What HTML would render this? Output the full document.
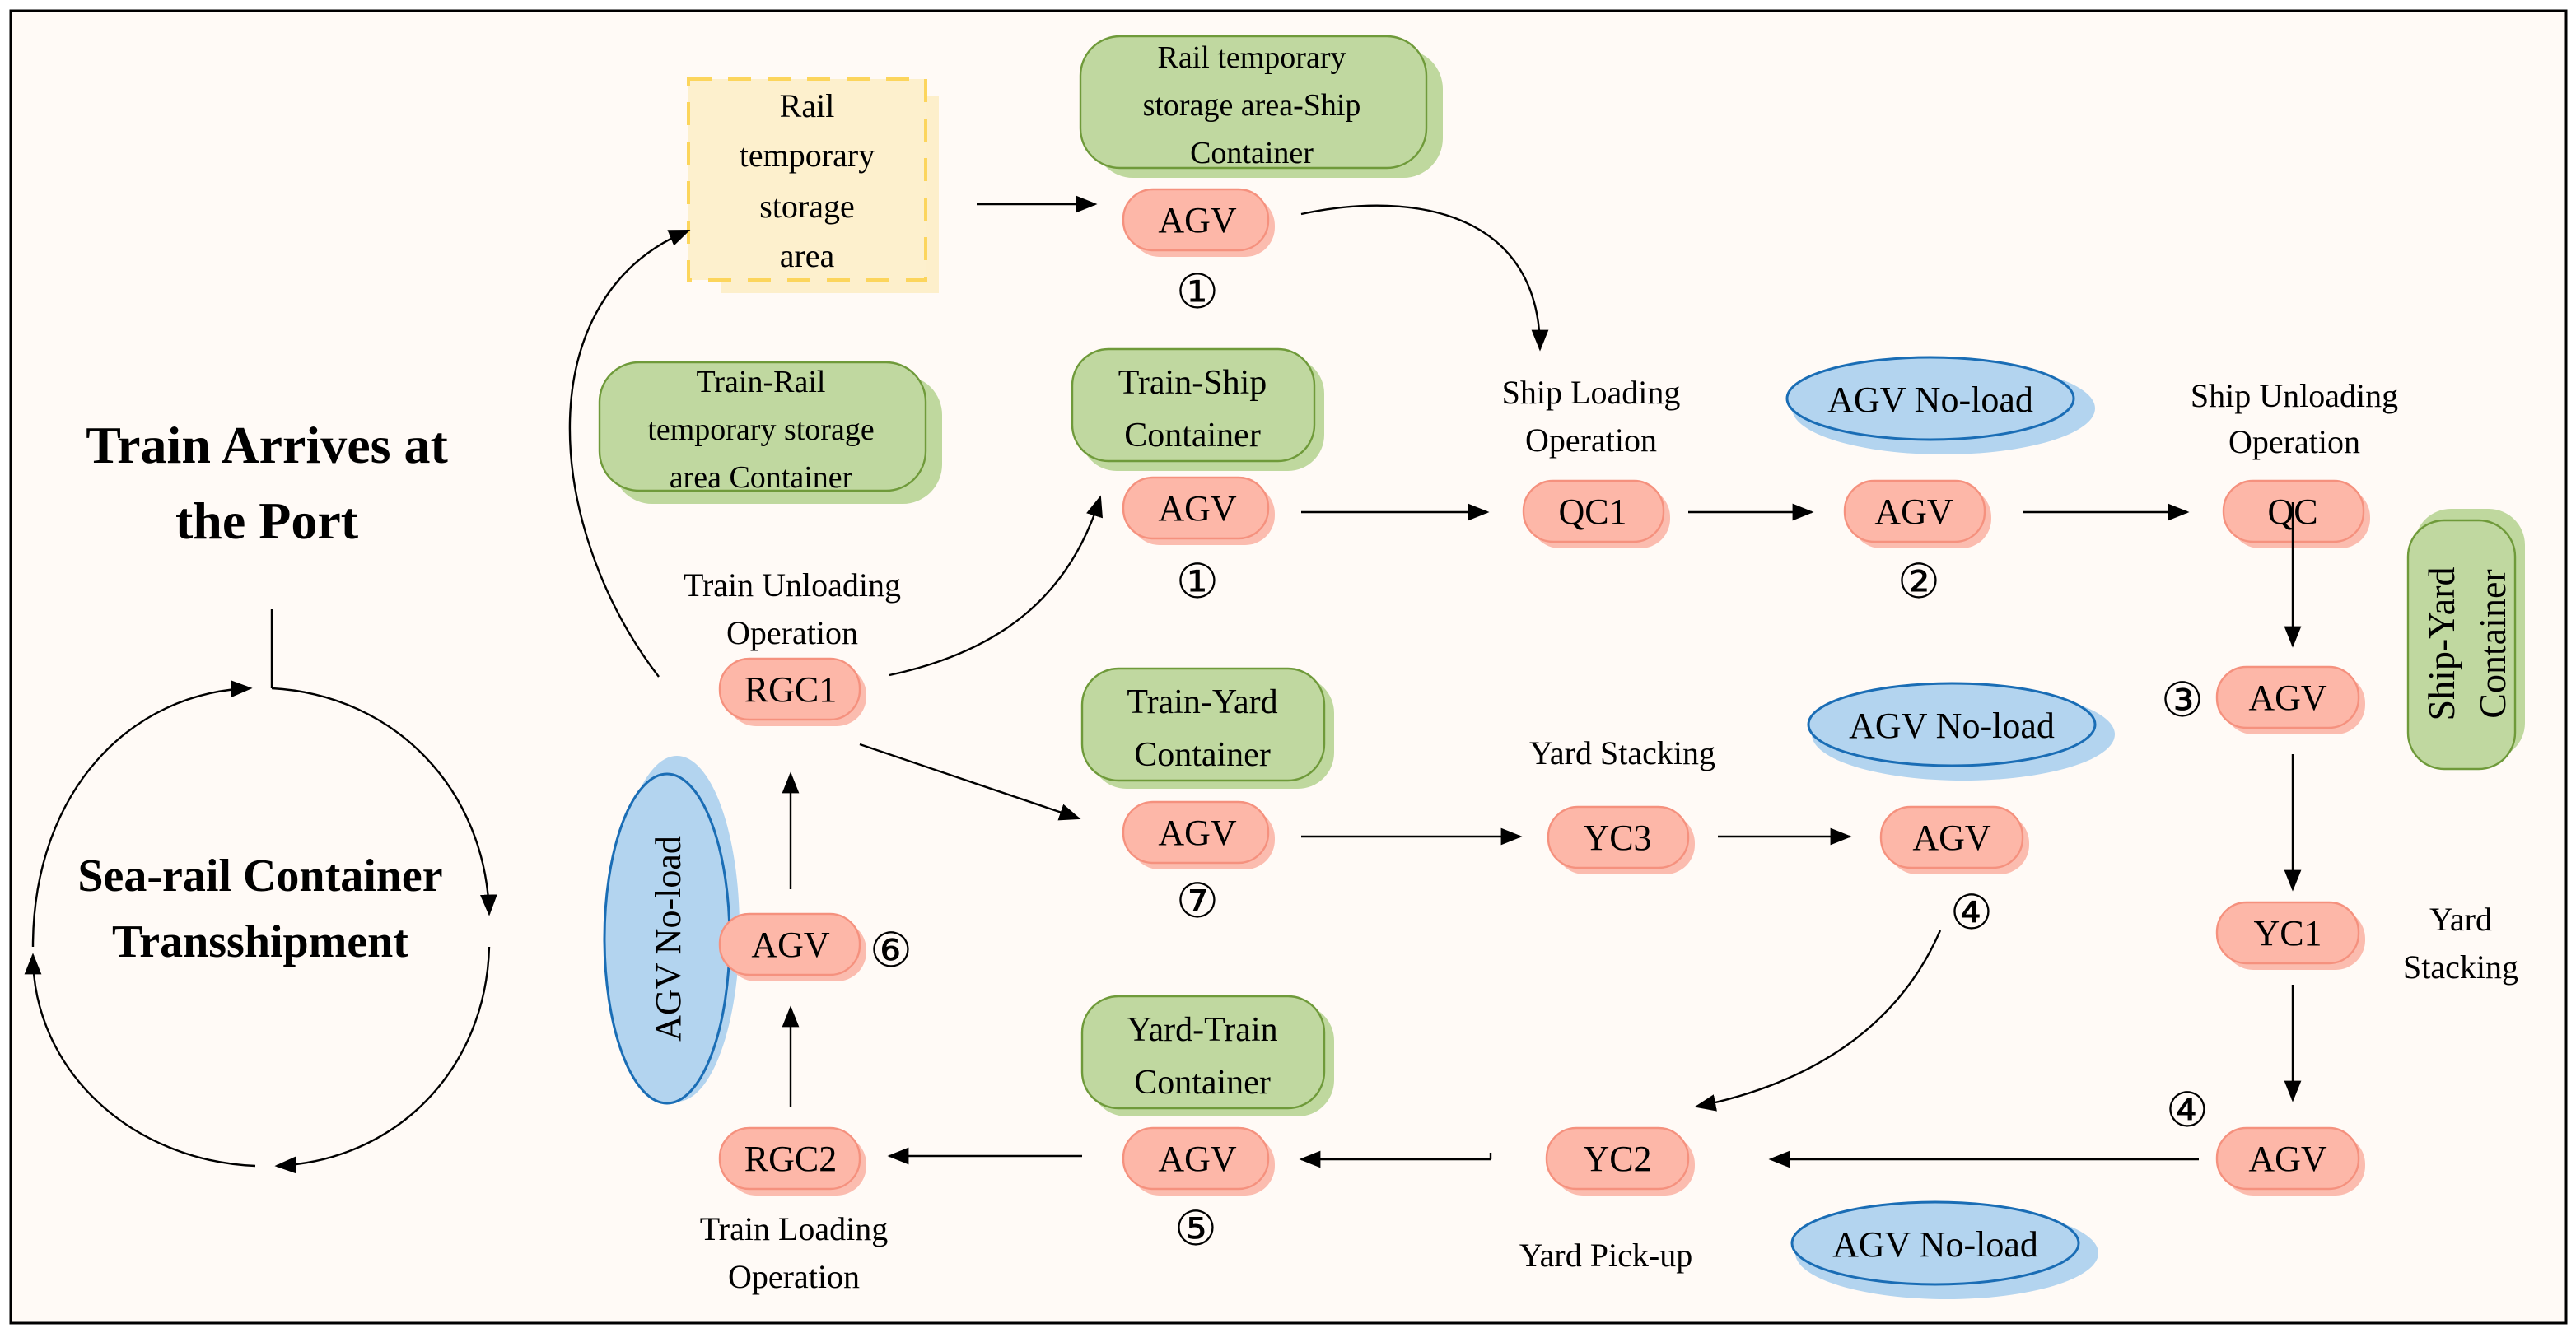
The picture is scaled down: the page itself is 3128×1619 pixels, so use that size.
<!DOCTYPE html>
<html><head><meta charset="utf-8"><style>
html,body{margin:0;padding:0;background:#fff;}
svg{display:block;}
text{font-family:"Liberation Serif",serif;fill:#000;}
.c{font-family:"DejaVu Sans",sans-serif;font-size:29px;}
</style></head><body>
<svg width="3128" height="1619" viewBox="0 0 1564 809.5" xmlns="http://www.w3.org/2000/svg">
<defs>
<marker id="b" viewBox="0 0 10 10" refX="9" refY="5" markerWidth="13" markerHeight="13" markerUnits="userSpaceOnUse" orient="auto"><path d="M0,1 L10,5 L0,9 z" fill="#000"/></marker>
</defs>
<rect x="6.5" y="6.5" width="1551.5" height="797" fill="#fffaf6" stroke="#000" stroke-width="1.5"/>

<!-- yellow dashed -->
<rect x="438" y="58" width="132" height="120" fill="#fdefcb"/>
<rect x="418" y="48" width="144" height="122" fill="#fdf0cd" stroke="#fcd55c" stroke-width="2" stroke-dasharray="14,10"/>
<g font-size="20" text-anchor="middle">
<text x="490" y="71">Rail</text><text x="490" y="101">temporary</text><text x="490" y="132">storage</text><text x="490" y="162">area</text>
</g>

<g stroke="#6f9a3a" stroke-width="1.2">
<rect x="664" y="30" width="212" height="78" rx="24" fill="#bfd89e" stroke="none"/>
<rect x="656" y="22" width="210" height="80" rx="24" fill="#c0d8a0"/>
<rect x="372" y="228" width="200" height="78" rx="24" fill="#bfd89e" stroke="none"/>
<rect x="364" y="220" width="198" height="78" rx="24" fill="#c0d8a0"/>
<rect x="656" y="217" width="148" height="69" rx="22" fill="#bfd89e" stroke="none"/>
<rect x="651" y="212" width="147" height="68" rx="22" fill="#c0d8a0"/>
<rect x="662" y="411" width="148" height="68" rx="22" fill="#bfd89e" stroke="none"/>
<rect x="657" y="406" width="147" height="68" rx="22" fill="#c0d8a0"/>
<rect x="662" y="610" width="148" height="68" rx="22" fill="#bfd89e" stroke="none"/>
<rect x="657" y="605" width="147" height="68" rx="22" fill="#c0d8a0"/>
<rect x="1466" y="309" width="67" height="152" rx="22" fill="#bfd89e" stroke="none"/>
<rect x="1462" y="316" width="65" height="151" rx="22" fill="#c0d8a0"/>
</g>
<g font-size="19" text-anchor="middle">
<text x="760" y="41">Rail temporary</text><text x="760" y="70">storage area-Ship</text><text x="760" y="99">Container</text>
<text x="462" y="238">Train-Rail</text><text x="462" y="267">temporary storage</text><text x="462" y="296">area Container</text>
</g>
<g font-size="21" text-anchor="middle">
<text x="724" y="239">Train-Ship</text><text x="724" y="271">Container</text>
<text x="730" y="433">Train-Yard</text><text x="730" y="465">Container</text>
<text x="730" y="632">Yard-Train</text><text x="730" y="664">Container</text>
<text transform="translate(1495,391) rotate(-90)" x="0" y="-5" font-size="23">Ship-Yard</text>
<text transform="translate(1495,391) rotate(-90)" x="0" y="26" font-size="23">Container</text>
</g>

<!-- blue ellipses -->
<g stroke="#1a6db5" stroke-width="1.5">
<ellipse cx="1180" cy="248" rx="92" ry="28" fill="#b3d4ef" stroke="none"/>
<ellipse cx="1172" cy="242" rx="87" ry="25" fill="#b3d4ef"/>
<ellipse cx="1192" cy="446" rx="92" ry="28" fill="#b3d4ef" stroke="none"/>
<ellipse cx="1185" cy="440" rx="87" ry="25" fill="#b3d4ef"/>
<ellipse cx="1182" cy="761" rx="92" ry="28" fill="#b3d4ef" stroke="none"/>
<ellipse cx="1175" cy="755" rx="87" ry="25" fill="#b3d4ef"/>
<ellipse cx="411" cy="564" rx="38" ry="105" fill="#b3d4ef" stroke="none"/>
<ellipse cx="405" cy="570" rx="38" ry="100" fill="#b3d4ef"/>
</g>
<g font-size="22" text-anchor="middle">
<text x="1172" y="250">AGV No-load</text>
<text x="1185" y="448">AGV No-load</text>
<text x="1175" y="763">AGV No-load</text>
<text transform="translate(405,570) rotate(-90)" x="0" y="8">AGV No-load</text>
</g>

<!-- pills -->
<g stroke="#f5917e" stroke-width="1.2">
<g fill="#fbbcaf" stroke="none">
<rect x="686" y="119" width="88" height="37" rx="18"/>
<rect x="686" y="294" width="88" height="37" rx="18"/>
<rect x="929" y="296" width="85" height="37" rx="18"/>
<rect x="1124" y="296" width="85" height="37" rx="18"/>
<rect x="1354" y="296" width="85" height="37" rx="18"/>
<rect x="1350" y="409" width="86" height="37" rx="18"/>
<rect x="1350" y="552" width="86" height="37" rx="18"/>
<rect x="1350" y="689" width="86" height="37" rx="18"/>
<rect x="943" y="689" width="86" height="37" rx="18"/>
<rect x="944" y="494" width="85" height="37" rx="18"/>
<rect x="1146" y="494" width="86" height="37" rx="18"/>
<rect x="686" y="491" width="88" height="37" rx="18"/>
<rect x="686" y="689" width="88" height="37" rx="18"/>
<rect x="441" y="689" width="85" height="37" rx="18"/>
<rect x="441" y="559" width="85" height="37" rx="18"/>
<rect x="441" y="404" width="85" height="37" rx="18"/>
</g>
<g fill="#fdb7a8">
<rect x="682" y="115" width="88" height="37" rx="18"/>
<rect x="682" y="290" width="88" height="37" rx="18"/>
<rect x="925" y="292" width="85" height="37" rx="18"/>
<rect x="1120" y="292" width="85" height="37" rx="18"/>
<rect x="1350" y="292" width="85" height="37" rx="18"/>
<rect x="1346" y="405" width="86" height="37" rx="18"/>
<rect x="1346" y="548" width="86" height="37" rx="18"/>
<rect x="1346" y="685" width="86" height="37" rx="18"/>
<rect x="939" y="685" width="86" height="37" rx="18"/>
<rect x="940" y="490" width="85" height="37" rx="18"/>
<rect x="1142" y="490" width="86" height="37" rx="18"/>
<rect x="682" y="487" width="88" height="37" rx="18"/>
<rect x="682" y="685" width="88" height="37" rx="18"/>
<rect x="437" y="685" width="85" height="37" rx="18"/>
<rect x="437" y="555" width="85" height="37" rx="18"/>
<rect x="437" y="400" width="85" height="37" rx="18"/>
</g>
</g>
<g font-size="22" text-anchor="middle">
<text x="727" y="141">AGV</text>
<text x="727" y="316">AGV</text>
<text x="967" y="318">QC1</text>
<text x="1162" y="318">AGV</text>
<text x="1392" y="318">QC</text>
<text x="1389" y="431">AGV</text>
<text x="1389" y="574">YC1</text>
<text x="1389" y="711">AGV</text>
<text x="982" y="711">YC2</text>
<text x="982" y="516">YC3</text>
<text x="1185" y="516">AGV</text>
<text x="727" y="513">AGV</text>
<text x="727" y="711">AGV</text>
<text x="480" y="711">RGC2</text>
<text x="480" y="581">AGV</text>
<text x="480" y="426">RGC1</text>
</g>
<g text-anchor="middle">
<text class="c" x="727" y="187">①</text>
<text class="c" x="727" y="363">①</text>
<text class="c" x="1165" y="363">②</text>
<text class="c" x="1325" y="435">③</text>
<text class="c" x="1197" y="564">④</text>
<text class="c" x="1328" y="684">④</text>
<text class="c" x="727" y="557">⑦</text>
<text class="c" x="726" y="756">⑤</text>
<text class="c" x="541" y="587">⑥</text>
</g>

<g font-size="20" text-anchor="middle">
<text x="966" y="245">Ship Loading</text><text x="966" y="274">Operation</text>
<text x="1393" y="247">Ship Unloading</text><text x="1393" y="275">Operation</text>
<text x="985" y="464">Yard Stacking</text>
<text x="1494" y="565">Yard</text><text x="1494" y="594">Stacking</text>
<text x="975" y="769">Yard Pick-up</text>
<text x="481" y="362">Train Unloading</text><text x="481" y="391">Operation</text>
<text x="482" y="753">Train Loading</text><text x="482" y="782">Operation</text>
</g>

<g font-weight="bold" text-anchor="middle">
<text x="162" y="281" font-size="32">Train Arrives at</text>
<text x="162" y="327" font-size="32">the Port</text>
<text x="158" y="541" font-size="28">Sea-rail Container</text>
<text x="158" y="581" font-size="28">Transshipment</text>
</g>

<!-- connectors -->
<g fill="none" stroke="#000" stroke-width="1.2" marker-end="url(#b)">
<path d="M593,124 L665,124"/>
<path d="M790,130 C860,115 935,130 935,212"/>
<path d="M790,311 L903,311"/>
<path d="M1025,311 L1100,311"/>
<path d="M1228,311 L1328,311"/>
<path d="M1392,305 L1392,392"/>
<path d="M1392,458 L1392,540"/>
<path d="M1392,598 L1392,668"/>
<path d="M1335,704 L1075,704"/>
<path d="M905,704 L790,704"/>
<path d="M657,702 L540,702"/>
<path d="M480,672 L480,612"/>
<path d="M480,540 L480,470"/>
<path d="M540,410 C610,395 650,360 668,302"/>
<path d="M400,411 C330,320 320,180 418,140"/>
<path d="M522,452 L655,497"/>
<path d="M790,508 L923,508"/>
<path d="M1043,508 L1123,508"/>
<path d="M1178,565 C1150,630 1090,660 1030,672"/>
<path d="M20,575 C20,480 80,420 152,418"/>
<path d="M165,418 C240,422 295,480 297,555"/>
<path d="M297,575 C295,650 240,705 168,708"/>
<path d="M155,708 C80,705 20,650 20,580"/>
</g>
<path d="M165,370 L165,418" stroke="#000" stroke-width="1.2"/>
<path d="M905,700 L905,704" stroke="#000" stroke-width="1.2"/>
</svg>
</body></html>
